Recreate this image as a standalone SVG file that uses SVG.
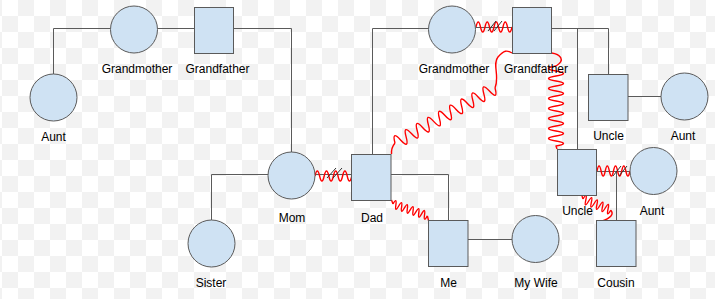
<svg xmlns="http://www.w3.org/2000/svg" width="715" height="299" viewBox="0 0 715 299">
<defs>
<pattern id="chk" patternUnits="userSpaceOnUse" x="2" y="0" width="32" height="32">
<rect width="32" height="32" fill="#ffffff"/>
<rect x="16" y="0" width="16" height="16" fill="#f2f2f2"/>
<rect x="0" y="16" width="16" height="16" fill="#f2f2f2"/>
</pattern>
</defs>
<style>
.n{fill:#cfe2f3;stroke:#5a5a5a;stroke-width:1}
.t{font-family:"Liberation Sans",Arial,sans-serif;font-size:12px;fill:#000;text-anchor:middle}
.l{fill:none;stroke:#5a5a5a;stroke-width:1}
.r{fill:none;stroke:#ff0000;stroke-width:1.4;stroke-linejoin:round}
.s{fill:none;stroke:#333;stroke-width:1}
</style>
<rect width="715" height="299" fill="url(#chk)"/>
<g id="connectors">
<path class="l" d="M110,28.5H53.5V74"/>
<path class="l" d="M158,28.5H194"/>
<path class="l" d="M233,28.5H291.5V152"/>
<path class="l" d="M268,174.5H211.5V220"/>
<path class="l" d="M372.5,154V28.5H428.5"/>
<path class="l" d="M391,174.5H448.5V220.5"/>
<path class="l" d="M468,239.5H512"/>
<path class="l" d="M551.5,28.5H608.5V74"/>
<path class="l" d="M577.5,28.5V149"/>
<path class="l" d="M628,96.5H661"/>
<path class="l" d="M315,174.5H351.5"/>
<path class="l" d="M475.5,27.5H512"/>
<path class="l" d="M596.5,171.5H630"/>
<path class="l" d="M616.5,171.5V220.5"/>
<path class="r" d="M315,176q2.3,-10 4.6,0t4.6,0t4.6,0t4.6,0t4.6,0t4.6,0t4.6,0t4.6,0"/>
<path class="r" d="M476,27q2.25,-10 4.5,0t4.5,0t4.5,0t4.5,0t4.5,0t4.5,0t4.5,0t4.5,0"/>
<path class="r" d="M597,171q2.06,-10 4.12,0t4.12,0t4.12,0t4.12,0t4.12,0t4.12,0t4.12,0t4.12,0"/>
<path class="s" d="M327,178L336,168M333,178L342,168"/>
<path class="s" d="M488,31L496,21M494,31L502,21"/>
<path class="s" d="M613,176L621,166M619,176L627,166"/>
<path class="r" d="M391.5,154Q391,148 395,143"/>
<path class="r" transform="translate(395,143) rotate(-28.8)" d="M0,0q3.17,-13 6.34,0t6.34,0t6.34,0t6.34,0t6.34,0t6.34,0t6.34,0t6.34,0t6.34,0t6.34,0t6.34,0t6.34,0t6.34,0t6.34,0t6.34,0t6.34,0t6.34,0t6.34,0"/>
<path class="r" d="M495,88C500,76 492,64 498,57S507,50 512,53"/>
<path class="r" d="M551.5,53C560,54 566,60 556,66q-15,2.5 0,5t0,5t0,5t0,5t0,5t0,5t0,5t0,5t0,5t0,5t0,5t0,5t0,5t0,5t0,5t0,5L557,149"/>
<path class="r" d="M391.5,200L393,204"/>
<path class="r" transform="translate(393,204) rotate(19)" d="M0,0q1.52,-8 3.03,0t3.03,0t3.03,0t3.03,0t3.03,0t3.03,0t3.03,0t3.03,0t3.03,0t3.03,0t3.03,0t3.03,0"/>
<path class="r" d="M427.4,215.9L428.5,220.5"/>
<path class="r" d="M582,196L583,199"/>
<path class="r" transform="translate(583,199) rotate(22)" d="M0,0q1.5,-9 3,0t3,0t3,0t3,0t3,0t3,0t3,0t3,0t3,0t3,0"/>
<path class="r" d="M610.8,210.2Q616,216 601,221.5"/>
</g>
<g id="grandmother-left"><circle class="n" cx="134" cy="29.5" r="23.5"/><text class="t" x="137" y="73">Grandmother</text></g>
<g id="grandfather-left"><rect class="n" x="194.5" y="7.5" width="39" height="46"/><text class="t" x="217.5" y="73">Grandfather</text></g>
<g id="aunt-left"><circle class="n" cx="53.5" cy="97.5" r="23.5"/><text class="t" x="53.5" y="141">Aunt</text></g>
<g id="mom"><circle class="n" cx="291.5" cy="175.5" r="23.5"/><text class="t" x="292" y="222">Mom</text></g>
<g id="sister"><circle class="n" cx="211.5" cy="243.5" r="23.5"/><text class="t" x="211" y="287">Sister</text></g>
<g id="dad"><rect class="n" x="351.5" y="154.5" width="39.5" height="46"/><text class="t" x="372" y="222">Dad</text></g>
<g id="me"><rect class="n" x="428.5" y="220.5" width="39.5" height="46"/><text class="t" x="448.5" y="287">Me</text></g>
<g id="my-wife"><circle class="n" cx="535.5" cy="239" r="23.5"/><text class="t" x="536" y="287">My Wife</text></g>
<g id="grandmother-right"><circle class="n" cx="452" cy="29.5" r="23.5"/><text class="t" x="454" y="73">Grandmother</text></g>
<g id="grandfather-right"><rect class="n" x="512.5" y="7.5" width="39" height="46"/><text class="t" x="536" y="73">Grandfather</text></g>
<g id="uncle-top"><rect class="n" x="588.5" y="74.5" width="39.5" height="46"/><text class="t" x="608.5" y="140">Uncle</text></g>
<g id="aunt-top"><circle class="n" cx="684.5" cy="96.5" r="23.5"/><text class="t" x="683" y="140">Aunt</text></g>
<g id="uncle-lower"><rect class="n" x="557.5" y="149.5" width="39" height="46"/><text class="t" x="577.5" y="215">Uncle</text></g>
<g id="aunt-lower"><circle class="n" cx="653.5" cy="171" r="23.5"/><text class="t" x="652" y="215">Aunt</text></g>
<g id="cousin"><rect class="n" x="596.5" y="220.5" width="39.5" height="46"/><text class="t" x="616" y="287">Cousin</text></g>
</svg>
